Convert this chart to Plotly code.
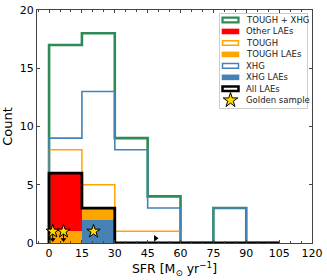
import plotly.graph_objects as go

# ---------------- data ----------------
bin_edges = [0, 15, 30, 45, 60, 75, 90, 105]
tough_xhg = [17, 18, 9, 4, 0, 3, 0]      # TOUGH + XHG (step)
xhg = [9, 13, 8, 3, 0, 3, 0]             # XHG (step)
tough = [8, 5, 1, 1, 0, 0, 0]            # TOUGH (step)
all_laes = [6, 3, 0, 0, 0, 0, 0]         # All LAEs (step)

lae_centers = [7.5, 22.5]
xhg_laes = [0, 2]                        # stacked filled
tough_laes = [1, 1]
other_laes = [5, 0]

golden_x = [1.7, 6.6, 20.3]
golden_y = [1, 1, 1]
upper_lim_x = [1.7, 6.6]
lower_lim_x = [48.6]
lower_lim_y = [0.4]

x_ticks = [0, 15, 30, 45, 60, 75, 90, 105, 120]
y_ticks = [0, 5, 10, 15, 20]

legend_labels = ["TOUGH + XHG", "Other LAEs", "TOUGH", "TOUGH LAEs",
                 "XHG", "XHG LAEs", "All LAEs", "Golden sample"]

GREEN = "#2e8b57"
BLUE = "#4682b4"
ORANGE = "#ffa500"
RED = "#ff0000"


def step_xy(edges, counts):
    xs, ys = [edges[0]], [0]
    for i, c in enumerate(counts):
        xs += [edges[i], edges[i + 1]]
        ys += [c, c]
    xs.append(edges[-1])
    ys.append(0)
    return xs, ys


fig = go.Figure()

# stacked filled histograms
fig.add_trace(go.Bar(x=lae_centers, y=xhg_laes, width=15, marker=dict(color=BLUE, line_width=0),
                     showlegend=False))
fig.add_trace(go.Bar(x=lae_centers, y=tough_laes, width=15, marker=dict(color=ORANGE, line_width=0),
                     showlegend=False))
fig.add_trace(go.Bar(x=lae_centers, y=other_laes, width=15, marker=dict(color=RED, line_width=0),
                     showlegend=False))

# step outlines
for counts, color, w in [(tough_xhg, GREEN, 2.6), (tough, ORANGE, 1.5),
                         (xhg, BLUE, 1.6), (all_laes, "black", 2.8)]:
    sx, sy = step_xy(bin_edges, counts)
    fig.add_trace(go.Scatter(x=sx, y=sy, mode="lines", line=dict(color=color, width=w),
                             showlegend=False, hoverinfo="skip"))

# limit arrows
for ux in upper_lim_x:
    fig.add_trace(go.Scatter(x=[ux, ux], y=[0.85, 0.35], mode="lines",
                             line=dict(color="black", width=1), showlegend=False))
fig.add_trace(go.Scatter(x=upper_lim_x, y=[0.3] * len(upper_lim_x), mode="markers",
                         marker=dict(symbol="triangle-down", size=5, color="black"),
                         showlegend=False))
fig.add_trace(go.Scatter(x=lower_lim_x, y=lower_lim_y, mode="markers",
                         marker=dict(symbol="triangle-right", size=6, color="black"),
                         showlegend=False))

# golden sample stars
fig.add_trace(go.Scatter(x=golden_x, y=golden_y, mode="markers",
                         marker=dict(symbol="star", size=10, color="#ffd700",
                                     line=dict(color="black", width=1)),
                         showlegend=False))

W, H = 327, 280
L, R, T, B = 37, 15, 10, 37
PW, PH = W - L - R, H - T - B


def px(xp):
    return (xp - L) / PW


def py(yp):
    return 1 - (yp - T) / PH


shapes = []
annotations = []
# legend frame
shapes.append(dict(type="rect", xref="paper", yref="paper",
                   x0=px(219.5), x1=px(307.5), y0=py(108.5), y1=py(13.5),
                   line=dict(color="#cccccc", width=1), fillcolor="white",
                   layer="below"))
styles = [("outline", GREEN, 2.2), ("fill", RED, 0), ("outline", ORANGE, 1.5),
          ("fill", ORANGE, 0), ("outline", BLUE, 1.5), ("fill", BLUE, 0),
          ("outline", "black", 2.5), ("star", None, 0)]
row0, dy = 20.0, 11.47
for i, (lab, (kind, col, lw)) in enumerate(zip(legend_labels, styles)):
    yc = row0 + i * dy
    if kind == "outline":
        shapes.append(dict(type="rect", xref="paper", yref="paper",
                           x0=px(222.5), x1=px(238.5), y0=py(yc + 2.3), y1=py(yc - 2.3),
                           line=dict(color=col, width=lw), fillcolor="white", layer="above"))
    elif kind == "fill":
        shapes.append(dict(type="rect", xref="paper", yref="paper",
                           x0=px(221.7), x1=px(239.3), y0=py(yc + 2.8), y1=py(yc - 2.8),
                           line=dict(width=0), fillcolor=col, layer="above"))
    annotations.append(dict(text=lab, xref="paper", yref="paper", x=px(244), y=py(yc),
                            xanchor="left", yanchor="middle", showarrow=False,
                            font=dict(size=8.5, color="#222", family="DejaVu Sans")))

fig.add_trace(go.Scatter(x=[px(230.5)], y=[py(row0 + 7 * dy)], xaxis="x2", yaxis="y2",
                         mode="markers",
                         marker=dict(symbol="star", size=11, color="#ffd700",
                                     line=dict(color="black", width=1)),
                         showlegend=False))

fig.update_layout(
    width=W, height=H,
    margin=dict(l=L, r=R, t=T, b=B, autoexpand=False),
    paper_bgcolor="white", plot_bgcolor="white",
    barmode="stack", bargap=0,
    showlegend=False,
    font=dict(family="DejaVu Sans", color="black"),
    shapes=shapes, annotations=annotations,
    xaxis=dict(range=[-5.5, 120], tickvals=x_ticks, ticktext=[str(v) for v in x_ticks],
               ticks="inside", ticklen=3, tickcolor="#444", showline=True, linecolor="#444",
               linewidth=1, mirror="ticks", showgrid=False, zeroline=False, automargin=False,
               tickfont=dict(size=11), title=dict(text="SFR [M<sub>⊙</sub> yr<sup>−1</sup>]",
                                                    font=dict(size=12.5), standoff=2),
               minor=dict(dtick=5, tick0=0, ticks="inside", ticklen=2, tickcolor="#444")),
    yaxis=dict(range=[0, 20], tickvals=y_ticks, ticks="inside", ticklen=3, tickcolor="#444",
               showline=True, linecolor="#444", linewidth=1, mirror="ticks", automargin=False,
               showgrid=False, zeroline=False, tickfont=dict(size=11),
               title=dict(text="Count", font=dict(size=13), standoff=4)),
    xaxis2=dict(range=[0, 1], overlaying="x", visible=False),
    yaxis2=dict(range=[0, 1], overlaying="y", visible=False),
)

fig.write_html("out.html", config={"displayModeBar": False},
               post_script="document.body.style.margin='0';document.body.style.padding='0';")
